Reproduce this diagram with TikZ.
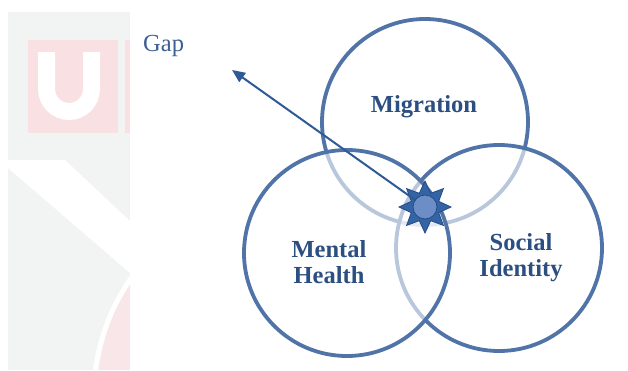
\documentclass[tikz,border=0pt]{standalone}
\usepackage{fontspec}
\setmainfont{Liberation Serif}
\usetikzlibrary{shapes.geometric,arrows.meta}

\definecolor{ring}{HTML}{5074A8}
\definecolor{labelblue}{HTML}{2C4F82}
\definecolor{gapblue}{HTML}{3D5F93}
\definecolor{arrowblue}{HTML}{2E5A96}
\definecolor{starfill}{HTML}{3463A6}
\definecolor{stardraw}{HTML}{244B84}
\definecolor{corefill}{HTML}{6D8DC6}
\definecolor{wmgrey}{HTML}{F2F3F3}
\definecolor{wmpink}{HTML}{F8E0E3}
\definecolor{wmpinklight}{HTML}{F9E6E8}

\tikzset{
  setring/.style={circle, draw=ring, line width=3.8pt, minimum size=206pt, inner sep=0pt},
  veiled/.style={setring, fill=white, fill opacity=0.6},
  setlabel/.style={text=labelblue, font=\bfseries\fontsize{24.5}{26}\selectfont, align=center, inner sep=0pt},
  gaplabel/.style={text=gapblue, font=\fontsize{24.5}{26}\selectfont, inner sep=0pt},
  gaparrow/.style={draw=arrowblue, line width=2pt, -{Triangle[length=13pt,width=11pt]}},
  burst/.style={star, star points=8, star point ratio=1.75, minimum size=52pt, inner sep=0pt,
                fill=starfill, draw=stardraw, line width=0.8pt},
  core/.style={circle, minimum size=24pt, inner sep=0pt, fill=corefill, draw=stardraw, line width=0.8pt}
}

\begin{document}
\begin{tikzpicture}[x=1pt,y=-1pt]
\useasboundingbox (0,0) rectangle (628,370);
\fill[white] (0,0) rectangle (628,370);

% faint repository watermark on the left
\fill[wmgrey] (8,12) rectangle (130,370);
\fill[wmpink] (28,40) rectangle (118,133);
\fill[wmpink] (125,40) rectangle (130,133);
\draw[white, line width=17pt, rounded corners=22.5pt]
  (46.5,52) -- (46.5,111.5) -- (91.5,111.5) -- (91.5,52);
\fill[white] (8,160) -- (65,160) -- (130,221) -- (130,273) -- (8,168) -- cycle;
\fill[wmpinklight] (130,282) .. controls (113,308) and (103,338) .. (99,370) -- (130,370) -- cycle;
\draw[white, line width=5pt] (132,277) .. controls (112,305) and (100,336) .. (95,372);

% the three overlapping fields
\node[setring] (mig) at (425,122) {};
\node[veiled]  (soc) at (499,248) {};
\node[veiled]  (men) at (347,253) {};

\node[setlabel, anchor=base] (migtext) at (424,112) {Migration};
\node[setlabel] (mentext) at (329,262) {Mental\\Health};
\node[setlabel] (soctext) at (521,258) {Social\\Identity};

% the gap at the common intersection
\coordinate (gaptip) at (232,70);
\node[gaplabel, anchor=base west] (gap) at (143,51) {Gap};
\node[burst] (star) at (425,207) {};
\draw[gaparrow] (star.center) -- (gaptip);
\node[core] (starcore) at (star.center) {};
\end{tikzpicture}
\end{document}
